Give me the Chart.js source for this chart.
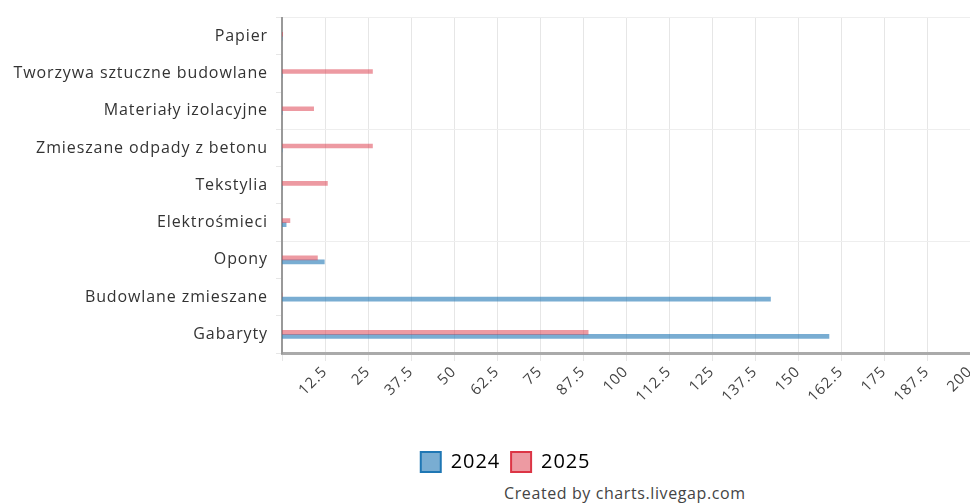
<!DOCTYPE html>
<html>
<head>
<meta charset="utf-8">
<script src="https://cdn.jsdelivr.net/npm/chart.js@4"></script>
<style>
  html, body { margin: 0; padding: 0; background: #fff; }
  #wrap { position: relative; width: 970px; height: 504px; }
  #credit {
    position: absolute; left: 504px; top: 482px;
    font-family: "Open Sans", sans-serif; font-size: 16px; color: #444;
    letter-spacing: 0.6px;
  }
</style>
</head>
<body>
<div id="wrap">
  <canvas id="myChart" width="970" height="482"></canvas>
  <div id="credit">Created by charts.livegap.com</div>
</div>
<script>
const ctx = document.getElementById("myChart");

const categories = [
  "Papier",
  "Tworzywa sztuczne budowlane",
  "Materiały izolacyjne",
  "Zmieszane odpady z betonu",
  "Tekstylia",
  "Elektrośmieci",
  "Opony",
  "Budowlane zmieszane",
  "Gabaryty",
];
const values2024 = [0, 0, 0, 0, 0, 1.2, 12.3, 142, 159];
const values2025 = [0.2, 26.3, 9.2, 26.3, 13.2, 2.3, 10.3, 0, 89];
const seriesNames = ["2024", "2025"];

Chart.defaults.font.family = "Open Sans";
Chart.defaults.color = "#333";

// wider text spacing, like the original renderer; legend nudged right
const tweaks = {
  id: "tweaks",
  beforeInit(chart) { chart.ctx.letterSpacing = "0.9px"; },
  afterLayout(chart) {
    chart.legend.left += 17;
    chart.legend.right += 17;
  },
  beforeDraw(chart) { chart.ctx.letterSpacing = "0.9px"; },
};

new Chart(ctx, {
  type: "bar",
  data: {
    labels: categories,
    // 2025 first so its bar sits above 2024 in each row
    datasets: [
      {
        label: seriesNames[1],
        data: values2025,
        backgroundColor: "rgba(220,53,69,0.5)",
        borderColor: "rgb(220,53,69)",
        borderWidth: 0,
        barThickness: 4,
      },
      {
        label: seriesNames[0],
        data: values2024,
        backgroundColor: "rgba(31,119,180,0.6)",
        borderColor: "rgb(31,119,180)",
        borderWidth: 0,
        barThickness: 4,
      },
    ],
  },
  plugins: [tweaks],
  options: {
    indexAxis: "y",
    responsive: false,
    animation: false,
    layout: { padding: { top: 16, right: 0, left: 0, bottom: 0 } },
    plugins: {
      legend: {
        position: "bottom",
        reverse: true,
        labels: {
          font: { size: 20 },
          color: "#222",
          boxWidth: 20,
          boxHeight: 20,
          padding: 11,
          generateLabels: (chart) =>
            chart.data.datasets.map((ds, i) => ({
              text: ds.label,
              fillStyle: ds.backgroundColor,
              strokeStyle: ds.borderColor,
              lineWidth: 2,
              datasetIndex: i,
            })),
        },
      },
      tooltip: { enabled: false },
    },
    scales: {
      x: {
        min: 0,
        max: 200,
        afterFit: (s) => { s.height = 88; s.paddingRight = 0; s.paddingLeft = 0; },
        ticks: {
          stepSize: 12.5,
          minRotation: 45,
          maxRotation: 45,
          font: { size: 15 },
          color: "#444",
          padding: 2,
          callback: (v) => (v === 0 ? "" : v),
        },
        grid: { color: "#e6e6e6", tickLength: 8 },
        border: { color: "#aaa", width: 3 },
      },
      y: {
        afterFit: (s) => { s.width = 282; },
        ticks: { font: { size: 16 }, color: "#333", padding: 8 },
        grid: {
          offset: true,
          color: (c) => (c.index % 3 === 0 ? "#eeeeee" : "transparent"),
          tickColor: "#e6e6e6",
          tickLength: 6,
        },
        border: { color: "#999", width: 2 },
      },
    },
  },
});
</script>
</body>
</html>
